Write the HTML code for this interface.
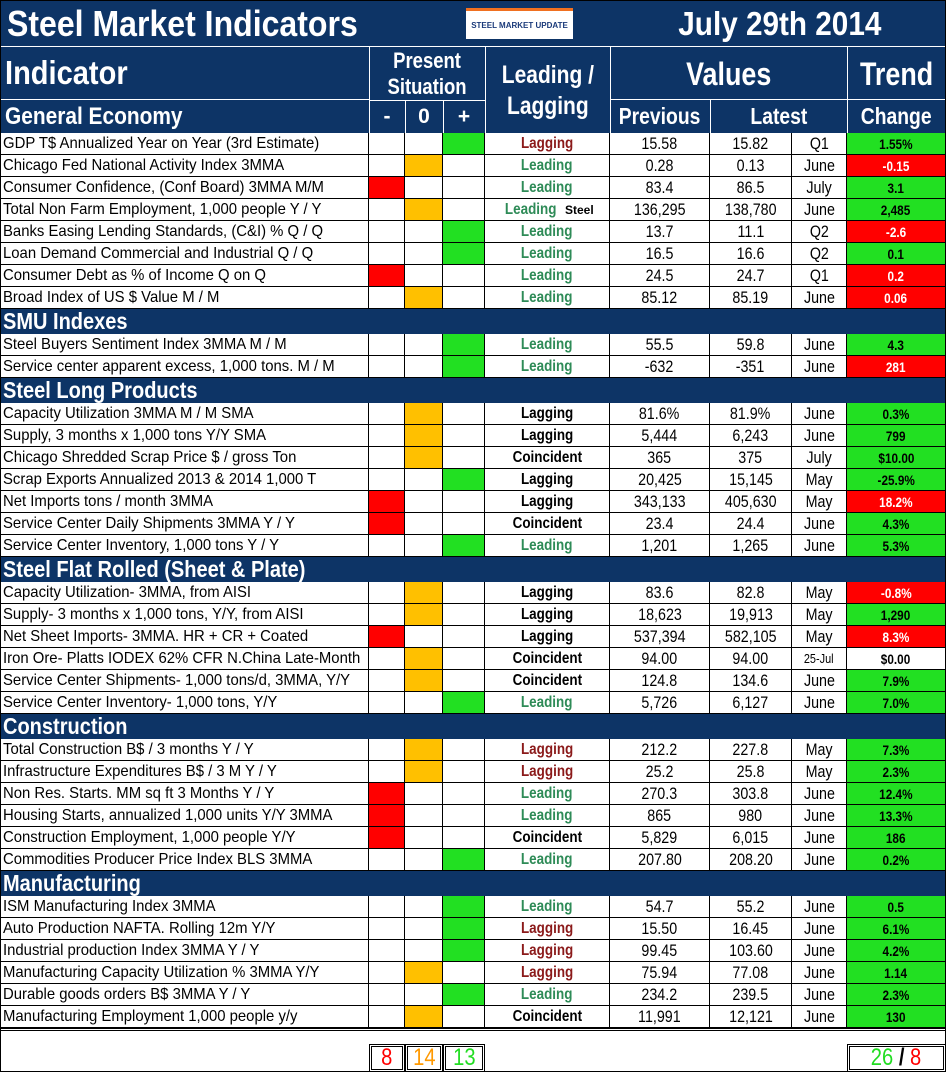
<!DOCTYPE html>
<html><head><meta charset="utf-8">
<style>
body{margin:0;width:946px;height:1072px;background:#fff;font-family:"Liberation Sans Narrow","Liberation Sans",sans-serif;position:relative;overflow:hidden}
.a{position:absolute;box-sizing:border-box}
.hd{background:#0d3466;color:#fff;font-weight:bold}
.w{color:#fff;font-weight:bold}
.n{display:inline-block;transform:scaleX(.84)}
.nl{display:inline-block;transform:scaleX(.84);transform-origin:left center;white-space:nowrap}
.c{display:flex;align-items:center;justify-content:center}
.l{display:flex;align-items:center;padding-left:3px}
</style></head><body>
<div id="root"></div>
<script>
const X=[0,369,405,443,485,610,710,792,847,946];
const sections=[
{name:"General Economy",rows:[
["GDP T$ Annualized Year on Year (3rd Estimate)","+","Lagging","r","15.58","15.82","Q1","1.55%","g"],
["Chicago Fed National Activity Index 3MMA","0","Leading","t","0.28","0.13","June","-0.15","r"],
["Consumer Confidence, (Conf Board) 3MMA M/M","-","Leading","t","83.4","86.5","July","3.1","g"],
["Total Non Farm Employment, 1,000 people Y / Y","0","Leading Steel","t","136,295","138,780","June","2,485","g"],
["Banks Easing Lending Standards, (C&I) % Q / Q","+","Leading","t","13.7","11.1","Q2","-2.6","r"],
["Loan Demand Commercial and Industrial Q / Q","+","Leading","t","16.5","16.6","Q2","0.1","g"],
["Consumer Debt as % of Income Q on Q","-","Leading","t","24.5","24.7","Q1","0.2","r"],
["Broad Index of US $ Value M / M","0","Leading","t","85.12","85.19","June","0.06","r"]]},
{name:"SMU Indexes",rows:[
["Steel Buyers Sentiment Index 3MMA M / M","+","Leading","t","55.5","59.8","June","4.3","g"],
["Service center apparent excess, 1,000 tons. M / M","+","Leading","t","-632","-351","June","281","r"]]},
{name:"Steel Long Products",rows:[
["Capacity Utilization 3MMA  M / M SMA","0","Lagging","k","81.6%","81.9%","June","0.3%","g"],
["Supply, 3 months x 1,000 tons Y/Y SMA","0","Lagging","k","5,444","6,243","June","799","g"],
["Chicago Shredded Scrap Price $ / gross Ton","0","Coincident","k","365","375","July","$10.00","g"],
["Scrap Exports Annualized 2013 & 2014 1,000 T","+","Lagging","k","20,425","15,145","May","-25.9%","g"],
["Net Imports tons / month 3MMA","-","Lagging","k","343,133","405,630","May","18.2%","r"],
["Service Center Daily Shipments 3MMA Y / Y","-","Coincident","k","23.4","24.4","June","4.3%","g"],
["Service Center Inventory, 1,000 tons Y / Y","+","Leading","t","1,201","1,265","June","5.3%","g"]]},
{name:"Steel Flat Rolled (Sheet & Plate)",rows:[
["Capacity Utilization- 3MMA, from AISI","0","Lagging","k","83.6","82.8","May","-0.8%","r"],
["Supply- 3 months x 1,000 tons, Y/Y, from AISI","0","Lagging","k","18,623","19,913","May","1,290","g"],
["Net Sheet Imports- 3MMA. HR + CR + Coated","-","Lagging","k","537,394","582,105","May","8.3%","r"],
["Iron Ore- Platts IODEX 62% CFR N.China Late-Month","0","Coincident","k","94.00","94.00","25-Jul","$0.00","w"],
["Service Center Shipments- 1,000 tons/d, 3MMA, Y/Y","0","Coincident","k","124.8","134.6","June","7.9%","g"],
["Service Center Inventory- 1,000 tons, Y/Y","+","Leading","t","5,726","6,127","June","7.0%","g"]]},
{name:"Construction",rows:[
["Total Construction B$ /  3 months Y / Y","0","Lagging","r","212.2","227.8","May","7.3%","g"],
["Infrastructure Expenditures B$ / 3 M    Y / Y","0","Lagging","r","25.2","25.8","May","2.3%","g"],
["Non Res. Starts. MM sq ft 3 Months   Y / Y","-","Leading","t","270.3","303.8","June","12.4%","g"],
["Housing Starts, annualized 1,000 units Y/Y 3MMA","-","Leading","t","865","980","June","13.3%","g"],
["Construction Employment, 1,000 people Y/Y","-","Coincident","k","5,829","6,015","June","186","g"],
["Commodities Producer Price Index BLS 3MMA","+","Leading","t","207.80","208.20","June","0.2%","g"]]},
{name:"Manufacturing",rows:[
["ISM Manufacturing Index 3MMA","+","Leading","t","54.7","55.2","June","0.5","g"],
["Auto Production NAFTA. Rolling 12m Y/Y","+","Lagging","r","15.50","16.45","June","6.1%","g"],
["Industrial production Index 3MMA Y / Y","+","Lagging","r","99.45","103.60","June","4.2%","g"],
["Manufacturing Capacity Utilization % 3MMA Y/Y","0","Lagging","r","75.94","77.08","June","1.14","g"],
["Durable goods orders B$  3MMA Y / Y","+","Leading","t","234.2","239.5","June","2.3%","g"],
["Manufacturing Employment 1,000 people y/y","0","Coincident","k","11,991","12,121","June","130","g"]]}
];
const sectionHeights=[27,25,25,25,25,25];
const R=document.getElementById('root');
function box(x,y,w,h,cls,html,name){const d=document.createElement('div');d.className='a '+cls;d.style.left=x+'px';d.style.top=y+'px';d.style.width=w+'px';d.style.height=h+'px';d.innerHTML=html;


R.appendChild(d);return d;}
box(0,0,946,133,'hd','','header-bg');
box(4,2,400,44,'l w','<span class="nl" style="font-size:36px;transform:scaleX(.89)">Steel Market Indicators</span>','title');
let lg=box(466,8,107,31,'c','<span style="font-size:8px;color:#1a3a7a;font-family:Liberation Sans;font-weight:bold">STEEL MARKET UPDATE</span>','logo');lg.style.background='#fff';lg.style.borderTop='3px solid #f07020';
box(640,2,280,44,'c w','<span class="n" style="font-size:33px;transform:scaleX(.9)">July 29th 2014</span>','date');
box(0,46,946,1,'','','line');R.lastChild.style.background='#fff';
box(2,48,365,50,'l w','<span class="nl" style="font-size:33px;transform:scaleX(.88)">Indicator</span>','indicator-header');
box(369,48,116,52,'c w','<span class="n" style="font-size:22px;text-align:center;line-height:26px">Present<br>Situation</span>','present-header');
box(485,48,125,85,'c w','<span class="n" style="font-size:25px;text-align:center;line-height:31px">Leading /<br>Lagging</span>','leading-header');
box(610,48,237,52,'c w','<span class="n" style="font-size:32px">Values</span>','values-header');
box(847,48,99,52,'c w','<span class="n" style="font-size:32px">Trend</span>','trend-header');
box(2,100,365,33,'l w','<span class="nl" style="font-size:24px;transform:scaleX(.87)">General Economy</span>','section-general-economy');
[['-',369,405],['0',405,443],['+',443,485]].forEach(s=>{box(s[1],100,s[2]-s[1],33,'c w','<span style="font-size:21px">'+s[0]+'</span>','sign-'+s[0])});
box(610,100,100,33,'c w','<span class="n" style="font-size:23px">Previous</span>','previous-header');
box(710,100,137,33,'c w','<span class="n" style="font-size:23px">Latest</span>','latest-header');
box(847,100,99,33,'c w','<span class="n" style="font-size:23px">Change</span>','change-header');
[[0,99,369,1],[610,99,336,1],[369,100,116,1]].forEach(a=>{box(a[0],a[1],a[2],a[3],'','','hline').style.background='#fff'});
[369,485,610,847].forEach(x=>{box(x,47,1,86,'','','vline').style.background='#fff'});
[405,443,710].forEach(x=>{box(x,100,1,33,'','','vline').style.background='#fff'});
const llc={r:'#8b1a1a',t:'#2e8b57',k:'#000'};
const tc={g:'#22e022',r:'#ff0000',w:'#fff'};
let y=133;
sections.forEach((s,si)=>{
 if(si>0){const h=sectionHeights[si];box(0,y,946,h,'hd l','<span class="nl" style="font-size:23px;transform:scaleX(.87)">'+s.name+'</span>','section-'+s.name.toLowerCase().replace(/[^a-z]+/g,'-'));y+=h;}
 s.rows.forEach((r,ri)=>{
  const h=22;
  const cells=[[0,'l','<span class="nl" style="font-size:16px;transform:scaleX(.93)">'+r[0]+'</span>'],
   [1,'',''],[2,'',''],[3,'',''],
   [4,'c','<span class="n" style="font-weight:bold;font-size:16px;color:'+llc[r[3]]+'">'+r[2].replace(' Steel','</span><span style="font-weight:bold;font-size:12px;color:#000">&nbsp;Steel')+'</span>'],
   [5,'c','<span class="n" style="font-size:17px">'+r[4]+'</span>'],
   [6,'c','<span class="n" style="font-size:17px">'+r[5]+'</span>'],
   [7,'c','<span class="n" style="font-size:'+(r[6].length>5?13:17)+'px">'+r[6]+'</span>'],
   [8,'c','<span class="n" style="font-weight:bold;font-size:14px;color:'+(r[8]=='r'?'#fff':'#000')+'">'+r[7]+'</span>']];
  cells.forEach(c=>{const i=c[0];const d=box(X[i],y,X[i+1]-X[i],h,c[1],c[2],'cell');
   d.style.borderRight='1px solid #000';d.style.borderBottom='1px solid #000';
   const sig={1:'-',2:'0',3:'+'}[i];
   if(sig&&r[1]==sig){d.style.background=sig=='-'?'#ff0000':sig=='0'?'#ffc000':'#22e022';}
   if(i==8)d.style.background=tc[r[8]];
  });
  y+=h;
 });
});
box(0,y,946,3,'','','bottom-rule').style.borderBottom='1px solid #000';R.lastChild.style.borderTop='1px solid #000';
box(0,0,946,1072,'','','frame').style.border='1px solid #000';
const fb=[[369,405,'8','#ff0000'],[405,443,'14','#ff9900'],[443,485,'13','#22dd22']];
fb.forEach(f=>{const d=box(f[0],1044,f[1]-f[0],28,'c','<span class="n" style="font-size:24px;color:'+f[3]+'">'+f[2]+'</span>','count-'+f[2]);d.style.border='3px double #000';});
const d=box(847,1044,99,28,'c','<span class="n" style="font-size:24px"><span style="color:#22dd22">26</span><b>&nbsp;/&nbsp;</b><span style="color:#ff0000">8</span></span>','trend-count');d.style.border='3px double #000';
</script>
</body></html>
